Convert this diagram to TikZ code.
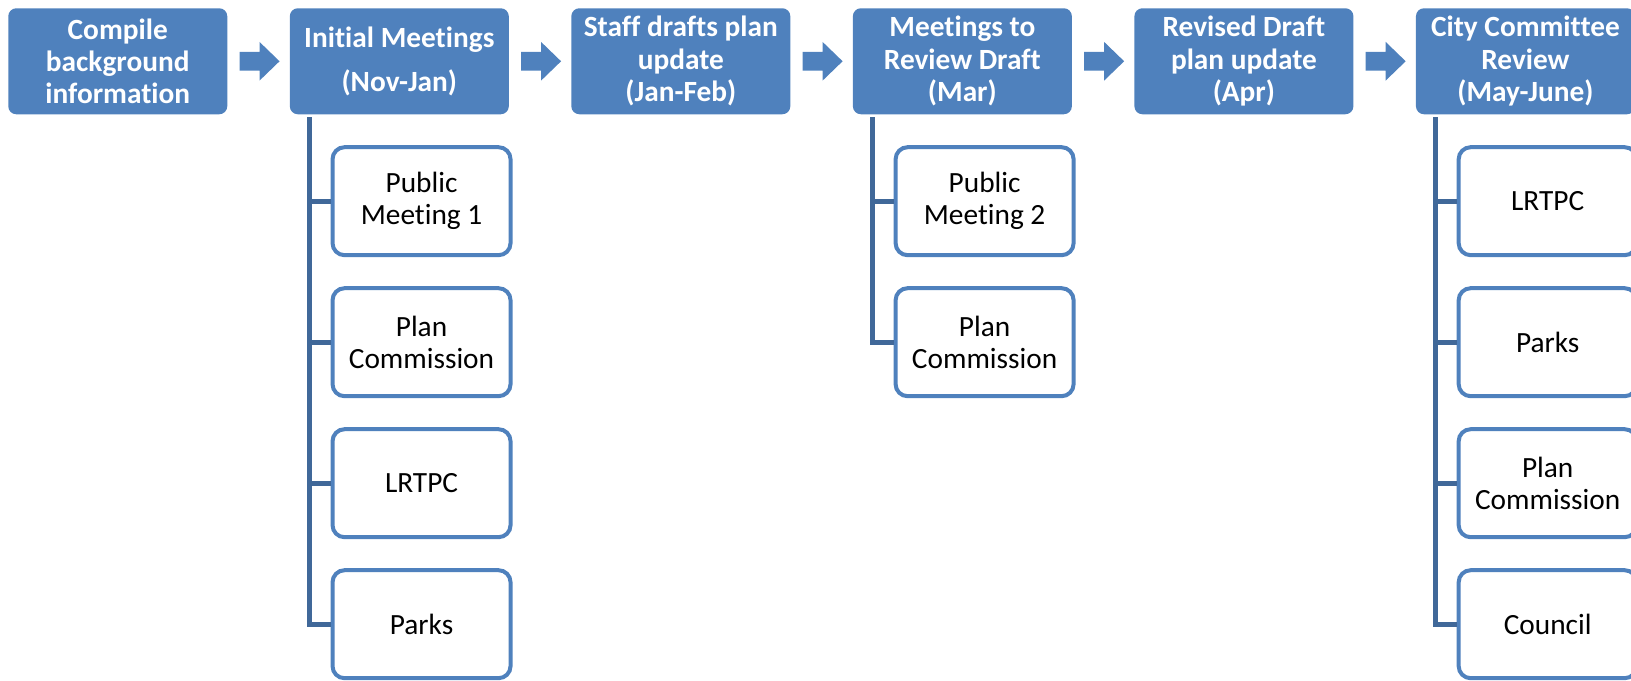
\documentclass[tikz,border=0pt]{standalone}
\usepackage{fontspec}
\setmainfont{Carlito}[Ligatures=NoCommon]
\usepackage{tikz}
\usetikzlibrary{positioning}
\definecolor{ofblue}{RGB}{79,129,189}
\definecolor{linkblue}{RGB}{64,104,153}

\begin{document}
\begin{tikzpicture}
\tikzstyle{phase}=[rectangle,fill=ofblue,text=white,rounded corners=6pt,
minimum width=164.25pt,minimum height=79.5pt,align=center,inner sep=0pt,
font=\fontsize{22}{24.3}\selectfont\bfseries]
\tikzstyle{task}=[rectangle,draw=ofblue,fill=white,line width=3pt,rounded corners=9pt,
minimum width=133.5pt,minimum height=81pt,align=center,inner sep=0pt,
font=\fontsize{22}{24}\selectfont]
\tikzstyle{link}=[draw=linkblue,line width=3.75pt]
\tikzstyle{flowarrow}=[fill=ofblue]

\useasboundingbox (0,0) rectangle (1223.25pt,-510.75pt);

\node[phase,anchor=north west] (compile) at (6pt,-6pt) {Compile\\background\\information};
\node[phase] (initial) [right=46.5pt of compile] {Initial Meetings\\[8.5pt](Nov-Jan)};
\node[phase] (staff) [right=46.5pt of initial] {Staff drafts plan\\update\\(Jan-Feb)};
\node[phase] (review) [right=46.5pt of staff] {Meetings to\\Review Draft\\(Mar)};
\node[phase] (revised) [right=46.5pt of review] {Revised Draft\\plan update\\(Apr)};
\node[phase] (city) [right=46.5pt of revised] {City Committee\\Review\\(May-June)};

\foreach \a in {compile,initial,staff,review,revised}
  \fill[flowarrow] ([xshift=9pt,yshift=7pt]\a.east) -- ++(15pt,0) -- ++(0,7.5pt)
    -- ++(15pt,-14.5pt) -- ++(-15pt,-14.5pt) -- ++(0,7.5pt) -- ++(-15pt,0) -- cycle;

\node[task] (public1) [below right=23pt and 30.75pt of initial.south west] {Public\\Meeting 1};
\node[task] (plan1) [below=21.75pt of public1] {Plan\\Commission};
\node[task] (lrtpc1) [below=21.75pt of plan1] {LRTPC};
\node[task] (parks1) [below=21.75pt of lrtpc1] {Parks};

\node[task] (public2) [below right=23pt and 30.75pt of review.south west] {Public\\Meeting 2};
\node[task] (plan2) [below=21.75pt of public2] {Plan\\Commission};

\node[task] (lrtpc3) [below right=23pt and 30.75pt of city.south west] {LRTPC};
\node[task] (parks3) [below=21.75pt of lrtpc3] {Parks};
\node[task] (plan3) [below=21.75pt of parks3] {Plan\\Commission};
\node[task] (council3) [below=21.75pt of plan3] {Council};

\foreach \c in {public1,plan1,lrtpc1,parks1}
  \draw[link] ([xshift=15pt,yshift=-2pt]initial.south west) |- (\c.west);
\foreach \c in {public2,plan2}
  \draw[link] ([xshift=15pt,yshift=-2pt]review.south west) |- (\c.west);
\foreach \c in {lrtpc3,parks3,plan3,council3}
  \draw[link] ([xshift=15pt,yshift=-2pt]city.south west) |- (\c.west);
\end{tikzpicture}
\end{document}
